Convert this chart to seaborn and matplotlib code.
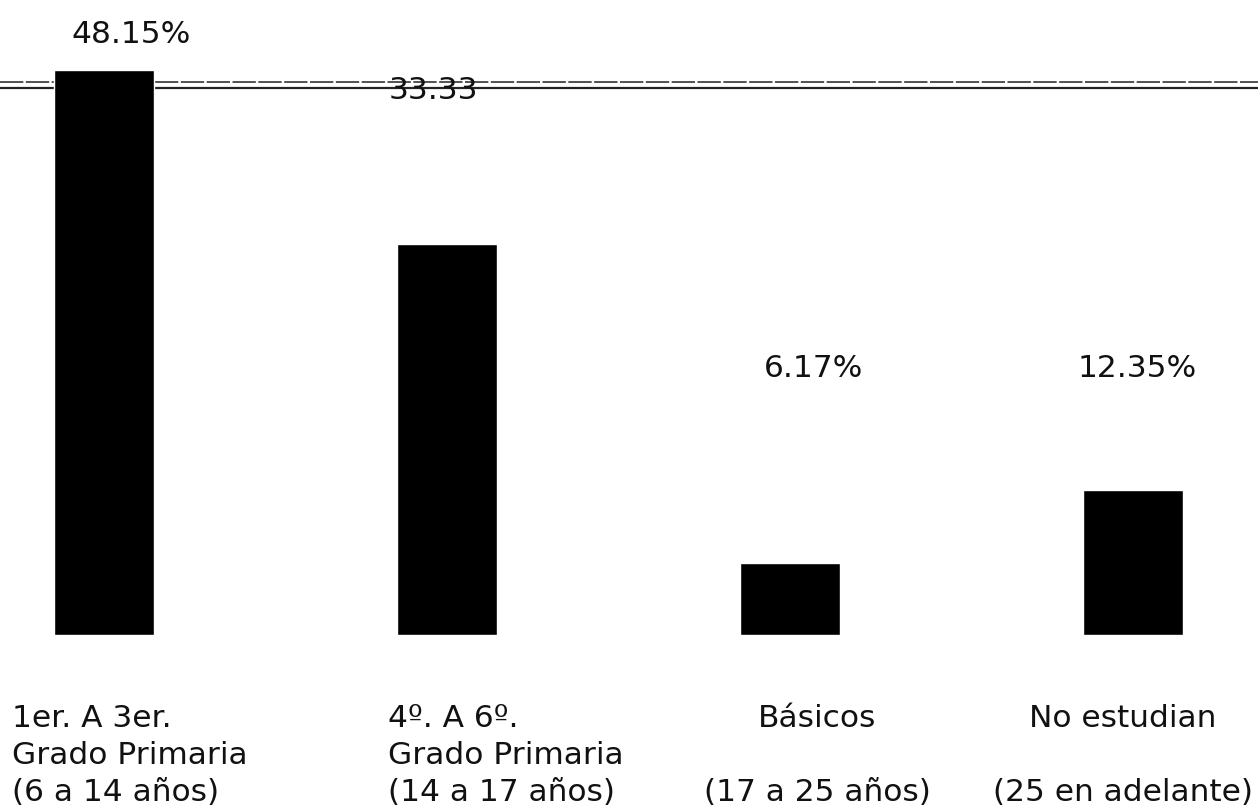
import matplotlib
matplotlib.use('Agg')
import matplotlib.pyplot as plt
import seaborn as sns

# datos
categorias = ['1er. A 3er.\nGrado Primaria\n(6 a 14 años)',
              '4º. A 6º.\nGrado Primaria\n(14 a 17 años)',
              'Básicos\n\n(17 a 25 años)',
              'No estudian\n\n(25 en adelante)']
porcentajes = [48.15, 33.33, 6.17, 12.35]
etiquetas = ['48.15%', '33.33', '6.17%', '12.35%']

sns.set_style('white')
plt.rcParams['font.family'] = ['DejaVu Sans']

fig = plt.figure(figsize=(12.58, 8.1), dpi=100)
ax = fig.add_axes([0, 175 / 810, 1, 635 / 810])

sns.barplot(x=list(range(len(porcentajes))), y=porcentajes, color='black',
            width=0.29, saturation=1, ax=ax, zorder=3)

# lineas horizontales de arriba
ax.axhline(47.14, color='#333333', lw=1.2, ls=(0, (14, 1.5)), zorder=1)
ax.axhline(46.63, color='#222222', lw=1.6, zorder=1)

ax.set_xlim(-0.303, 3.364)
ax.set_ylim(0, 54.1)
ax.axis('off')

# etiquetas de valores
pos_val = [(0.079, 50.47), (0.960, 45.69), (2.068, 22.0), (3.011, 22.0)]
for (x, y), t in zip(pos_val, etiquetas):
    ax.text(x, y, t, ha='center', va='baseline', fontsize=22.5, color='#111111', zorder=4)

# etiquetas de categorias
pos_cat = [(-0.268, 'left'), (0.827, 'left'), (2.08, 'center'), (2.97, 'center')]
for (x, ha), t in zip(pos_cat, categorias):
    ax.text(x, -5.9, t, ha=ha, va='top', multialignment=ha, fontsize=22.5,
            linespacing=1.34, color='#111111')

plt.savefig('out.png', dpi=100)
